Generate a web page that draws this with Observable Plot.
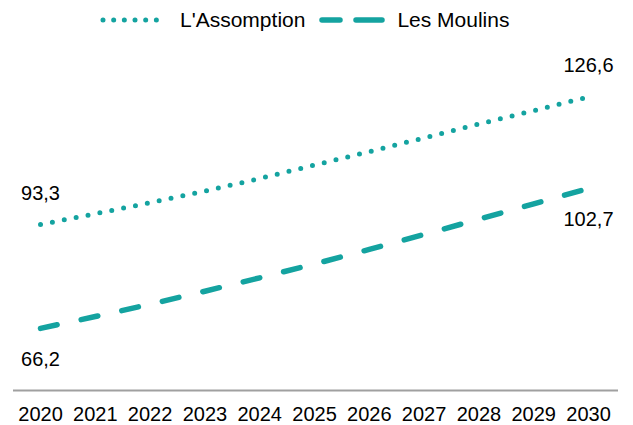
<!DOCTYPE html>
<html>
<head>
<meta charset="utf-8">
<script src="https://cdn.jsdelivr.net/npm/d3@7"></script>
<script src="https://cdn.jsdelivr.net/npm/@observablehq/plot@0.6"></script>
<style>
  html, body { margin: 0; padding: 0; background: #fff; }
  body { width: 633px; height: 425px; overflow: hidden; font-family: "Liberation Sans", Arial, sans-serif; }
  #legend { height: 40px; display: flex; align-items: center; padding-left: 100px; font-size: 21px; color: #000; }
  #legend .item { display: flex; align-items: center; }
  #legend svg { display: block; }
</style>
</head>
<body>
<div id="legend"></div>
<div id="chart"></div>
<script>
const years = [2020, 2021, 2022, 2023, 2024, 2025, 2026, 2027, 2028, 2029, 2030];
const assomption = [93.3, 96.1, 99.0, 102.0, 105.3, 108.8, 112.3, 115.9, 119.5, 123.0, 126.6];
const moulins = [66.2, 69.3, 72.5, 75.9, 79.4, 83.0, 86.8, 90.7, 94.7, 98.7, 102.7];
const seriesNames = ["L'Assomption", "Les Moulins"];

const teal = "#14a3a0";

const data = [];
years.forEach((y, i) => {
  data.push({year: y, value: assomption[i], series: seriesNames[0]});
  data.push({year: y, value: moulins[i], series: seriesNames[1]});
});

const fmt = v => v.toFixed(1).replace(".", ",");
const first = years[0], last = years[years.length - 1];
const ends = data.filter(d => d.year === first || d.year === last);

const chart = Plot.plot({
  width: 633,
  height: 385,
  marginLeft: 13,
  marginRight: 15,
  marginTop: 5,
  marginBottom: 35,
  style: {fontFamily: "Liberation Sans, Arial, sans-serif", fontSize: "20px", color: "#000", background: "#fff"},
  x: {domain: [2019.507, 2030.547], ticks: years, tickFormat: d => String(d), tickSize: 0, tickPadding: 16, label: null},
  y: {domain: [50, 140], axis: null},
  marks: [
    Plot.ruleY([50], {stroke: "#a0a0a0", strokeWidth: 2.2}),
    Plot.line(data.filter(d => d.series === seriesNames[0]), {
      x: "year", y: "value", stroke: teal, strokeWidth: 5,
      strokeLinecap: "round", strokeDasharray: "0 12.1"
    }),
    Plot.line(data.filter(d => d.series === seriesNames[1]), {
      x: "year", y: "value", stroke: teal, strokeWidth: 5.5,
      strokeLinecap: "round", strokeDasharray: "17 24.6"
    }),
    Plot.text(ends.filter(d => d.series === seriesNames[0]), {
      x: "year", y: "value", text: d => fmt(d.value), dy: -31,
      fill: "#000", fontSize: 20, lineAnchor: "middle"
    }),
    Plot.text(ends.filter(d => d.series === seriesNames[1]), {
      x: "year", y: "value", text: d => fmt(d.value), dy: 31,
      fill: "#000", fontSize: 20, lineAnchor: "middle"
    })
  ]
});
document.getElementById("chart").appendChild(chart);

// Legend
const legend = document.getElementById("legend");
function addItem(name, markerSvg, gapAfterMarker, marginLeft) {
  const item = document.createElement("div");
  item.className = "item";
  item.style.marginLeft = marginLeft + "px";
  item.innerHTML = markerSvg + `<span style="margin-left:${gapAfterMarker}px">${name}</span>`;
  legend.appendChild(item);
}
addItem(seriesNames[0],
  `<svg width="70" height="12"><line x1="3" y1="6" x2="67" y2="6" stroke="${teal}" stroke-width="5" stroke-linecap="round" stroke-dasharray="0 10.67"/></svg>`,
  10, 0);
addItem(seriesNames[1],
  `<svg width="66" height="12"><path d="M3,6L21,6M37,6L63,6" stroke="${teal}" stroke-width="5.5" stroke-linecap="round" fill="none"/></svg>`,
  12, 14);
</script>
</body>
</html>
